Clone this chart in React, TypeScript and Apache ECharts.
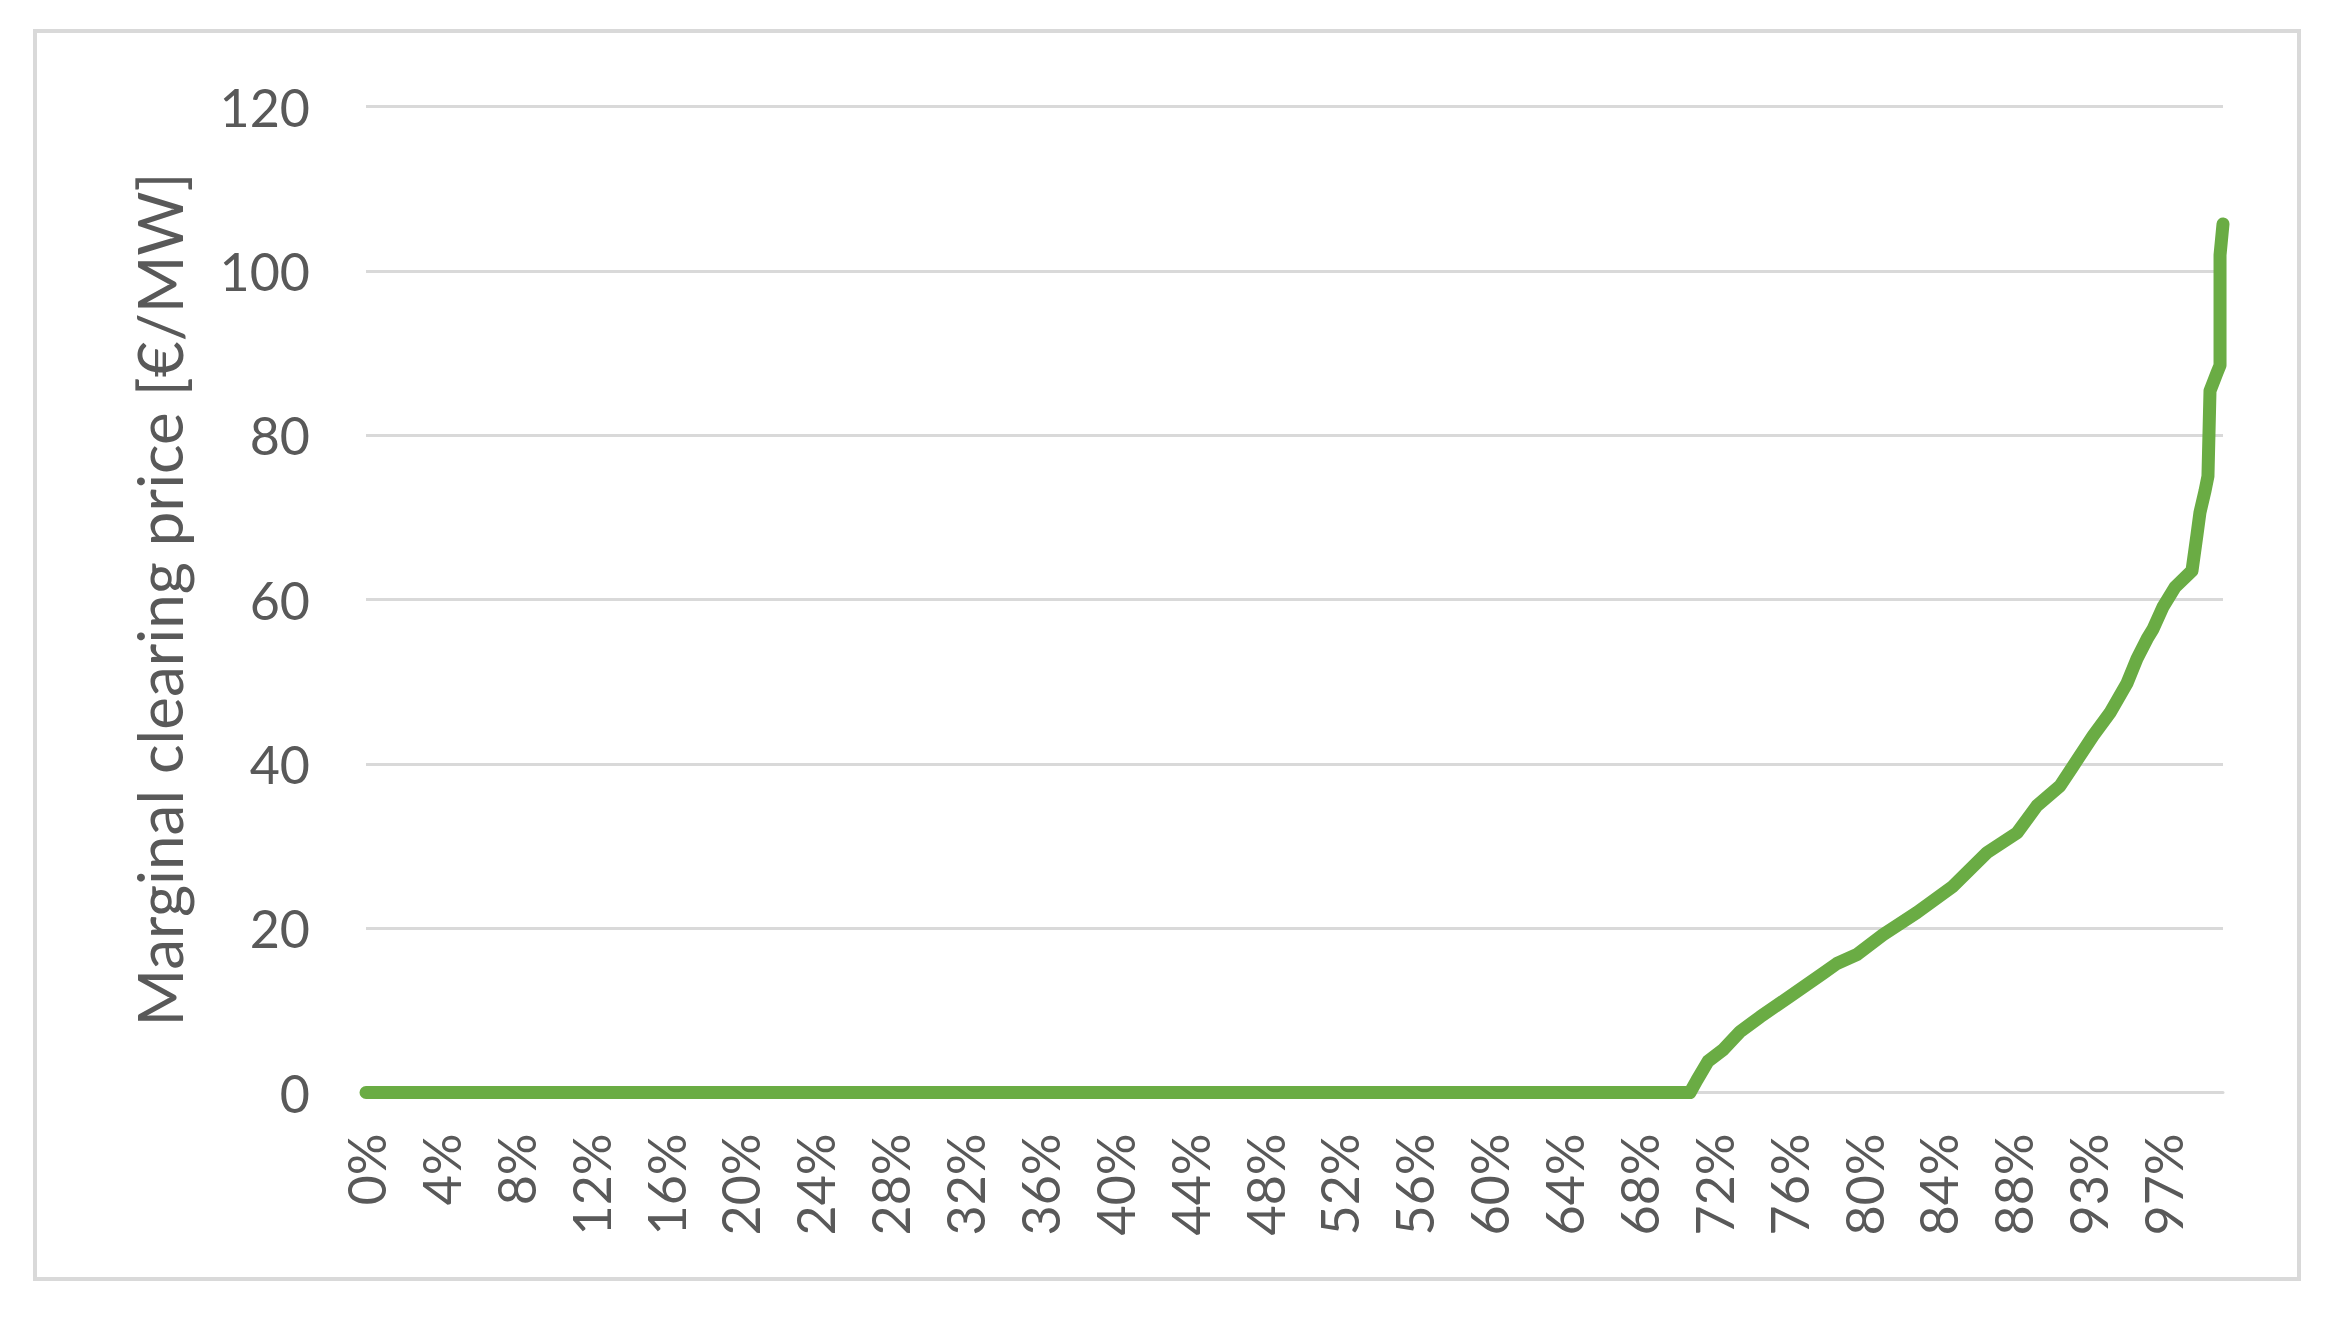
import React, { useEffect, useRef } from "react";
import * as echarts from "echarts";

// Tick labels on the horizontal axis (duration, share of time)
const xTickLabels = [
  "0%", "4%", "8%", "12%", "16%", "20%", "24%", "28%", "32%", "36%", "40%", "44%",
  "48%", "52%", "56%", "60%", "64%", "68%", "72%", "76%", "80%", "84%", "88%", "93%", "97%",
];

// Number of label intervals spanned by the whole horizontal axis
const X_SPAN_STEPS = 24.8;

// Price duration curve: share of time (%) and marginal clearing price (€/MW)
const durationPct = [
  0, 71.3, 71.67, 72.27, 73.08, 73.99, 75.07, 76.68, 78.46, 79.21, 80.29, 81.69, 83.52,
  85.41, 87.29, 88.91, 89.98, 91.22, 91.92, 93.0, 93.91, 94.83, 95.37, 95.91, 96.23,
  96.77, 97.42, 98.33, 98.6, 98.76, 99.03, 99.19, 99.3, 99.68, 99.84, 99.84, 100,
];
const clearingPrice = [
  0, 0, 1.5, 3.8, 5.2, 7.4, 9.2, 11.7, 14.5, 15.7, 16.8, 19.2, 21.9,
  25.0, 29.2, 31.6, 34.9, 37.3, 39.7, 43.4, 46.2, 49.8, 52.8, 55.2, 56.4,
  59.1, 61.5, 63.5, 67.9, 70.6, 73.2, 75, 85.4, 87.6, 88.5, 101.9, 105.7,
];

const yMin = 0;
const yMax = 120;
const yStep = 20;

const TEXT = "#595959";
const GRID = "#D9D9D9";
const GREEN = "#6AAC44";
const FONT = "Lato, 'Noto Sans', sans-serif";

export default function App() {
  const ref = useRef<HTMLDivElement>(null);

  useEffect(() => {
    if (!ref.current) return;
    const chart = echarts.init(ref.current, null, { renderer: "svg" });
    const xStep = 100 / X_SPAN_STEPS;
    const data = durationPct.map((x, i) => [x, clearingPrice[i]]);

    chart.setOption({
      animation: false,
      backgroundColor: "#ffffff",
      textStyle: { fontFamily: FONT },
      grid: { left: 366, right: 119, top: 106.5, bottom: 227.5, containLabel: false },
      graphic: [
        {
          type: "rect",
          shape: { x: 35, y: 31, width: 2264, height: 1248 },
          style: { fill: "none", stroke: GRID, lineWidth: 4 },
          silent: true,
          z: -10,
        },
      ],
      xAxis: {
        type: "value",
        min: 0,
        max: 100,
        interval: xStep,
        splitLine: { show: false },
        axisTick: { show: false },
        axisLine: { show: true, lineStyle: { color: GRID, width: 3 } },
        axisLabel: {
          rotate: 90,
          margin: 41,
          fontSize: 52,
          color: TEXT,
          fontFamily: FONT,
          showMaxLabel: false,
          formatter: (v: number) => {
            const i = Math.round(v / xStep);
            if (Math.abs(v - i * xStep) > 0.05) return "";
            return i >= 0 && i < xTickLabels.length ? xTickLabels[i] : "";
          },
        },
      },
      yAxis: {
        type: "value",
        min: yMin,
        max: yMax,
        interval: yStep,
        axisLine: { show: false },
        axisTick: { show: false },
        splitLine: { show: true, lineStyle: { color: GRID, width: 3 } },
        axisLabel: { fontSize: 52, color: TEXT, margin: 56, fontFamily: FONT },
        name: "Marginal clearing price [€/MW]",
        nameLocation: "middle",
        nameGap: 176,
        nameRotate: 90,
        nameTextStyle: { fontSize: 62, color: TEXT, fontFamily: FONT },
      },
      series: [
        {
          type: "line",
          data,
          showSymbol: false,
          symbol: "none",
          clip: false,
          lineStyle: { color: GREEN, width: 13, cap: "round", join: "round" },
          z: 5,
        },
      ],
    });

    return () => chart.dispose();
  }, []);

  return (
    <div
      ref={ref}
      style={{ position: "fixed", left: 0, top: 0, width: 2342, height: 1320, background: "#fff" }}
    />
  );
}
